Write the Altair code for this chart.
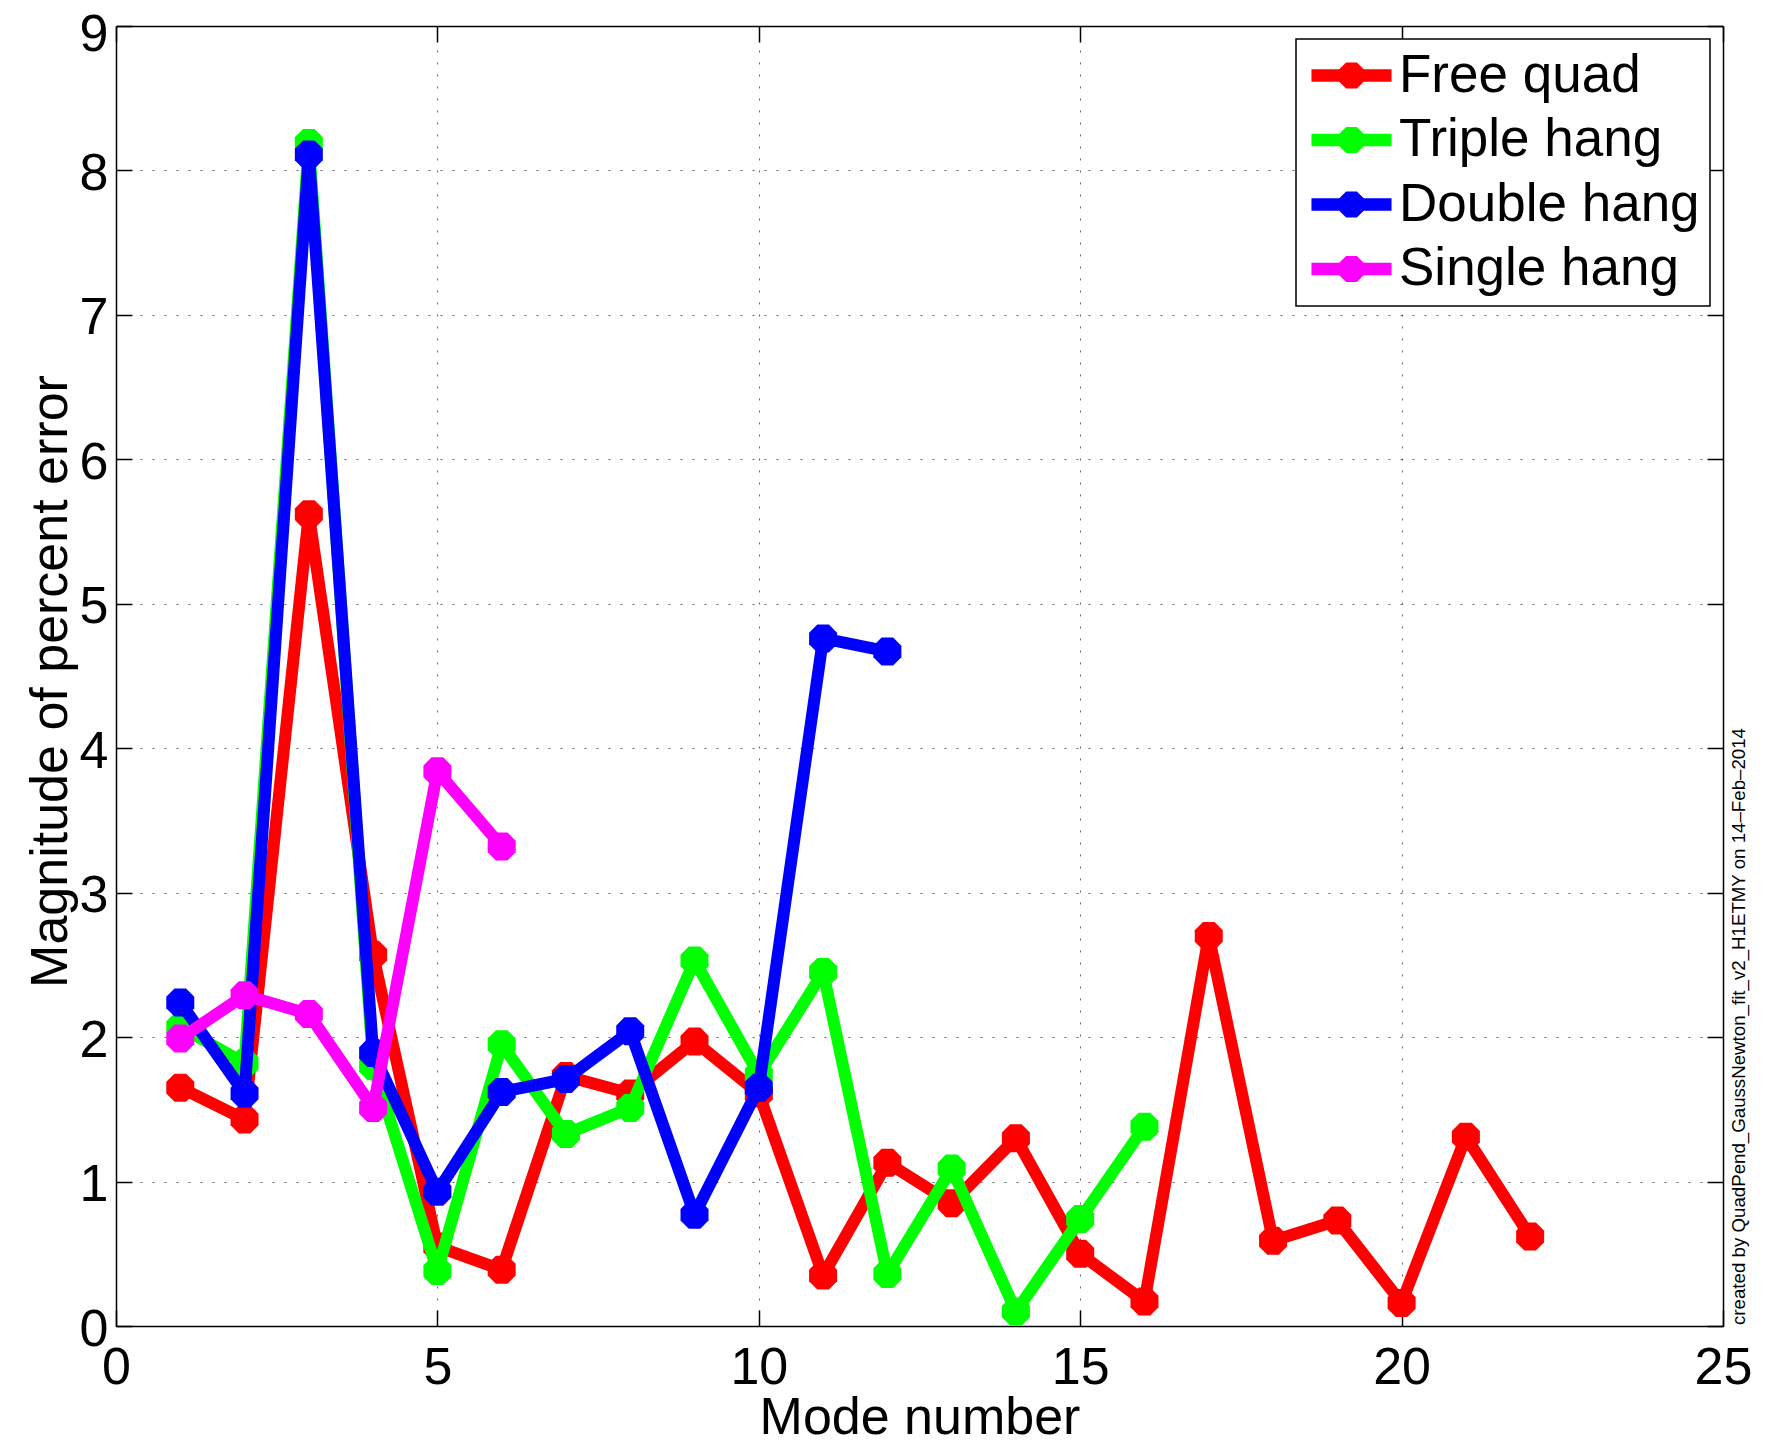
import altair as alt
import pandas as pd

# ---- data ----
SERIES = ["Free quad", "Triple hang", "Double hang", "Single hang"]
COLORS = ["#ff0000", "#00ff00", "#0000ff", "#ff00ff"]

FREE_QUAD = [1.65, 1.43, 5.62, 2.57, 0.55, 0.39, 1.73, 1.61, 1.97, 1.61, 0.35,
             1.13, 0.85, 1.30, 0.50, 0.17, 2.70, 0.59, 0.73, 0.16, 1.31, 0.62]
TRIPLE_HANG = [2.07, 1.82, 8.19, 1.80, 0.38, 1.95, 1.33, 1.51, 2.53, 1.74, 2.45,
               0.36, 1.09, 0.10, 0.74, 1.38]
DOUBLE_HANG = [2.24, 1.61, 8.11, 1.89, 0.93, 1.62, 1.71, 2.04, 0.77, 1.65, 4.76, 4.67]
SINGLE_HANG = [1.99, 2.29, 2.16, 1.51, 3.84, 3.32]

X_TICKS = [0, 5, 10, 15, 20, 25]
Y_TICKS = [0, 1, 2, 3, 4, 5, 6, 7, 8, 9]
X_TITLE = "Mode number"
Y_TITLE = "Magnitude of percent error"
CREDIT = "created by QuadPend_GaussNewton_fit_v2_H1ETMY on 14\u2013Feb\u20132014"

rows = []
for name, vals in zip(SERIES, [FREE_QUAD, TRIPLE_HANG, DOUBLE_HANG, SINGLE_HANG]):
    for m, v in enumerate(vals, start=1):
        rows.append({"series": name, "mode": m, "err": v})
df = pd.DataFrame(rows)

# ---- styling ----
W, H = 1607, 1300
FONT = "Liberation Sans"
FS = 52
OCT = "M-0.414,-1L0.414,-1L1,-0.414L1,0.414L0.414,1L-0.414,1L-1,0.414L-1,-0.414Z"
LEG = ("M-1.54,-0.245H1.54V0.245H-1.54Z "
       "M-0.207,-0.5L0.207,-0.5L0.5,-0.207L0.5,0.207L0.207,0.5L-0.207,0.5L-0.5,0.207L-0.5,-0.207Z")

xscale = alt.Scale(domain=[0, 25], nice=False, zero=False)
yscale = alt.Scale(domain=[0, 9], nice=False, zero=False)
cscale = alt.Scale(domain=SERIES, range=COLORS)

common = dict(labelFont=FONT, titleFont=FONT, labelColor="black", titleColor="black",
              labelFontWeight="normal", titleFontWeight="normal",
              labelFlush=False, labelOverlap=False, tickColor="black", tickWidth=1.5,
              domainColor="black", domainWidth=1.5)

ax_x_main = alt.Axis(orient="bottom", values=X_TICKS, grid=True, gridDash=[2, 10],
                     gridColor="#000000", gridOpacity=0.6, gridWidth=1,
                     ticks=False, tickSize=0, domain=True,
                     labelFontSize=FS, labelBaseline="alphabetic", labelPadding=57,
                     title=X_TITLE, titleFontSize=FS, titleBaseline="alphabetic",
                     titleX=W / 2, titleY=107, titleAlign="center", **common)
ax_y_main = alt.Axis(orient="left", values=Y_TICKS, grid=True, gridDash=[2, 10],
                     gridColor="#000000", gridOpacity=0.6, gridWidth=1,
                     ticks=False, tickSize=0, domain=True,
                     labelFontSize=FS, labelPadding=8, labelBaseline="middle",
                     labelOffset={"condition": {"test": "datum.value === 9", "value": 8},
                                  "value": 3},
                     title=Y_TITLE, titleFontSize=FS, titleAngle=270,
                     titleBaseline="alphabetic", titleAlign="center",
                     titleX=-50, titleY=655, **common)
# inward ticks: bottom edge (top-oriented axis pushed down), left edge
ax_x_in_bottom = alt.Axis(orient="top", offset=-H, values=X_TICKS, ticks=True, tickSize=16,
                          labels=False, domain=False, grid=False, title=None, **common)
ax_y_in_left = alt.Axis(orient="right", offset=-W, values=Y_TICKS, ticks=True, tickSize=16,
                        labels=False, domain=False, grid=False, title=None, **common)
# inward ticks + border: top edge, right edge
ax_x_in_top = alt.Axis(orient="bottom", offset=-H, values=X_TICKS, ticks=True, tickSize=16,
                       labels=False, domain=True, grid=False, title=None, **common)
ax_y_in_right = alt.Axis(orient="left", offset=-W, values=Y_TICKS, ticks=True, tickSize=16,
                         labels=False, domain=True, grid=False, title=None, **common)

legend = alt.Legend(title=None, orient="top-right", offset=13,
                    symbolType=LEG, symbolSize=2704, symbolStrokeWidth=0, symbolOpacity=1,
                    labelFont=FONT, labelFontSize=53, labelColor="black", labelLimit=800,
                    labelOffset=21, symbolOffset=19, rowPadding=10.5, padding=10,
                    fillColor="white", strokeColor="black", cornerRadius=0)

layers = []
for i, (name, col) in enumerate(zip(SERIES, COLORS)):
    base = alt.Chart(df).transform_filter(alt.datum.series == name)
    if i == 0:
        lx, ly = ax_x_main, ax_y_main
        px, py = ax_x_in_bottom, ax_y_in_left
    elif i == 1:
        lx, ly = ax_x_in_top, ax_y_in_right
        px, py = None, None
    else:
        lx = ly = px = py = None
    line = base.mark_line(strokeWidth=12, strokeJoin="round", strokeCap="round",
                          color=col).encode(
        x=alt.X("mode:Q", scale=xscale, axis=lx),
        y=alt.Y("err:Q", scale=yscale, axis=ly),
    )
    pts = base.mark_point(shape=OCT, size=784, filled=True, opacity=1).encode(
        x=alt.X("mode:Q", scale=xscale, axis=px),
        y=alt.Y("err:Q", scale=yscale, axis=py),
        color=alt.Color("series:N", scale=cscale, legend=legend),
    )
    layers += [line, pts]

credit = alt.Chart(pd.DataFrame({"t": [CREDIT]})).mark_text(
    angle=270, align="left", baseline="top", font=FONT, fontSize=18.7, color="black"
).encode(text="t:N", x=alt.value(1614), y=alt.value(1299))
layers.append(credit)

chart = (
    alt.layer(*layers)
    .resolve_scale(x="shared", y="shared")
    .resolve_axis(x="independent", y="independent")
    .properties(width=W, height=H,
                autosize=alt.AutoSizeParams(type="none"),
                padding={"left": 108, "top": 18, "right": 41, "bottom": 124})
    .configure_view(stroke=None)
    .configure_legend(strokeWidth=1.5)
)

chart.save("out.html", embed_options={"renderer": "svg", "actions": False})
